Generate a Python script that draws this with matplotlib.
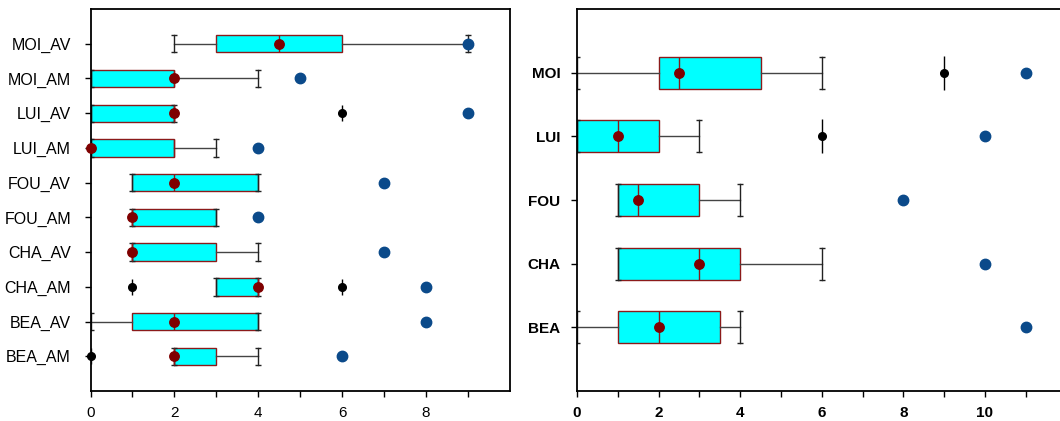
import matplotlib
matplotlib.use("Agg")
import matplotlib.pyplot as plt

# ---- Left panel data ----
labels_left = ['BEA_AM', 'BEA_AV', 'CHA_AM', 'CHA_AV', 'FOU_AM',
               'FOU_AV', 'LUI_AM', 'LUI_AV', 'MOI_AM', 'MOI_AV']
q1_left = [2, 1, 3, 1, 1, 1, 0, 0, 0, 3]
med_left = [2, 2, 4, 1, 1, 2, 2, 2, 2, 4.5]
q3_left = [3, 4, 4, 3, 3, 4, 2, 2, 2, 6]
whislo_left = [2, 0, 3, 1, 1, 1, 0, 0, 0, 2]
whishi_left = [4, 4, 4, 4, 3, 4, 3, 2, 4, 9]
mean_left = [2, 2, 4, 1, 1, 2, 0, 2, 2, 4.5]
outliers_left = [[0], [], [1, 6], [], [], [], [], [6], [], []]
max_left = [6, 8, 8, 7, 4, 7, 4, 9, 5, 9]

# ---- Right panel data ----
labels_right = ['BEA', 'CHA', 'FOU', 'LUI', 'MOI']
q1_right = [1, 1, 1, 0, 2]
med_right = [2, 3, 1.5, 1, 2.5]
q3_right = [3.5, 4, 3, 2, 4.5]
whislo_right = [0, 1, 1, 0, 0]
whishi_right = [4, 6, 4, 3, 6]
mean_right = [2, 3, 1.5, 1, 2.5]
outliers_right = [[], [], [], [6], [9]]
max_right = [11, 10, 8, 10, 11]

CYAN = '#00FFFF'
EDGE = '#8b1a1a'
MEAN_C = '#7f0000'
MAX_C = '#0b4a8a'

plt.rcParams['font.family'] = ['Liberation Sans', 'DejaVu Sans']

fig = plt.figure(figsize=(10.6, 4.21), dpi=100)
W, H = 1060, 421
ax1 = fig.add_axes([90.5 / W, 30 / H, 419.5 / W, 382 / H])
ax2 = fig.add_axes([577 / W, 30 / H, 489.6 / W, 382 / H])


def draw(ax, labels, q1, med, q3, wlo, whi, mean, outl, mx, fsize, bold,
         flier_tick):
    stats = []
    for i in range(len(labels)):
        stats.append(dict(label=labels[i], q1=q1[i], med=med[i], q3=q3[i],
                          whislo=wlo[i], whishi=whi[i], fliers=[]))
    pos = list(range(1, len(labels) + 1))
    ax.bxp(stats, positions=pos, widths=0.5, capwidths=0.5,
           orientation='horizontal', patch_artist=True, showfliers=False,
           boxprops=dict(facecolor=CYAN, edgecolor=EDGE, linewidth=1.0),
           medianprops=dict(color=EDGE, linewidth=1.0),
           whiskerprops=dict(color='#444444', linewidth=1.0),
           capprops=dict(color='#222222', linewidth=1.0, marker='_',
                         markersize=4, markeredgewidth=1.0))
    for i, p in enumerate(pos):
        for o in outl[i]:
            ax.plot([o], [p], marker='|', color='black', markersize=flier_tick,
                    mew=1.0, zorder=4)
            ax.plot([o], [p], marker='o', color='black', markersize=5.5,
                    linestyle='none', zorder=5, clip_on=False)
        ax.plot([mean[i]], [p], marker='o', color=MEAN_C, markersize=6.8,
                linestyle='none', zorder=6, clip_on=False)
        ax.plot([mx[i]], [p], marker='o', color=MAX_C, markersize=7.5,
                linestyle='none', zorder=6, clip_on=False)
    ax.set_yticks(pos)
    ax.set_yticklabels(labels, fontsize=fsize,
                       fontweight='bold' if bold else 'normal')
    for s in ax.spines.values():
        s.set_linewidth(1.3)
        s.set_color('black')
    ax.tick_params(axis='both', direction='out', length=4, width=1.0,
                   colors='black')
    ax.tick_params(axis='x', which='minor', direction='out', length=4, width=1.0)


draw(ax1, labels_left, q1_left, med_left, q3_left, whislo_left, whishi_left,
     mean_left, outliers_left, max_left, 11.5, False, 12)
ax1.set_xlim(0, 10)
ax1.set_ylim(0, 11)
ax1.set_xticks([0, 2, 4, 6, 8])
ax1.set_xticks([1, 3, 5, 7, 9], minor=True)
ax1.tick_params(axis='y', pad=10)
ax1.tick_params(axis='x', pad=7, labelsize=11)

draw(ax2, labels_right, q1_right, med_right, q3_right, whislo_right,
     whishi_right, mean_right, outliers_right, max_right, 11, True, 24)
ax2.set_xlim(0, 12)
ax2.set_ylim(0, 6)
ax2.set_xticks([0, 2, 4, 6, 8, 10])
ax2.set_xticks([1, 3, 5, 7, 9, 11], minor=True)
ax2.tick_params(axis='y', pad=8)
ax2.tick_params(axis='x', pad=7, labelsize=11)
for t in ax2.get_xticklabels():
    t.set_fontweight('bold')
ax2.spines['right'].set_visible(False)

fig.savefig('out.png', dpi=100)
